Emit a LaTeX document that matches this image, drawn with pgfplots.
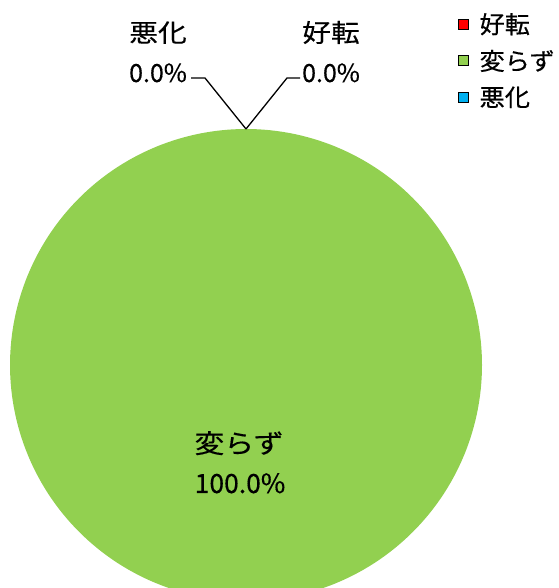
\documentclass[border=0pt]{standalone}
\usepackage{pgfplots}
\pgfplotsset{compat=1.18}
\usepackage{fontspec}
\setmainfont[FakeBold=0.35]{Noto Sans CJK JP}
\definecolor{cA}{HTML}{FF0000}
\definecolor{cB}{HTML}{92D050}
\definecolor{cC}{HTML}{00B0F0}
\def\vA{0}\def\vB{100}\def\vC{0}
\newcommand\cjk[1]{\scalebox{1.15}[1]{#1}}
\begin{document}
\begin{tikzpicture}
\begin{axis}[at={(0,0)},anchor=south west,
  scale only axis, width=558pt, height=588pt,
  xmin=0, xmax=558, ymin=0, ymax=588, hide axis, clip=true,
  legend style={at={(axis cs:458,575)}, anchor=north west, draw=none, fill=none,
    font=\fontsize{24}{24}\selectfont, row sep=15pt, inner sep=0pt,
    nodes={inner sep=0pt, anchor=west}},
  legend cell align=left,
  legend image code/.code={\fill[#1] (0pt,-5pt) rectangle (10pt,5pt); \path (21pt,0pt);},
]
\addlegendimage{fill=cA}\addlegendentry{\scalebox{1.05}[1]{好転}}
\addlegendimage{fill=cB}\addlegendentry{\scalebox{1.05}[1]{変らず}}
\addlegendimage{fill=cC}\addlegendentry{\scalebox{1.05}[1]{悪化}}
\addplot[fill=cB, draw=none, domain=0:3.6*\vB, samples=241, forget plot]
  ({246+236*sin(x)},{223+236*cos(x)}) -- cycle;
\addplot[black, line width=1.3pt, forget plot] coordinates {(191,510) (205,510) (246,459)};
\addplot[black, line width=1.3pt, forget plot] coordinates {(300,510) (287,510) (246,459)};
\node[anchor=base, font=\fontsize{25}{25}\selectfont, inner sep=0pt] at (axis cs:158,546) {\cjk{悪化}};
\node[anchor=base, font=\fontsize{25}{25}\selectfont, inner sep=0pt] at (axis cs:158,506) {0.0\%};
\node[anchor=base, font=\fontsize{25}{25}\selectfont, inner sep=0pt] at (axis cs:331,546) {\cjk{好転}};
\node[anchor=base, font=\fontsize{25}{25}\selectfont, inner sep=0pt] at (axis cs:331,506) {0.0\%};
\node[anchor=base, font=\fontsize{26}{26}\selectfont, inner sep=0pt] at (axis cs:239,135) {\cjk{変らず}};
\node[anchor=base, font=\fontsize{26.5}{26.5}\selectfont, inner sep=0pt] at (axis cs:240,95) {100.0\%};
\end{axis}
\pgfresetboundingbox
\path[use as bounding box] (0,0) rectangle (558pt,588pt);
\end{tikzpicture}
\end{document}
